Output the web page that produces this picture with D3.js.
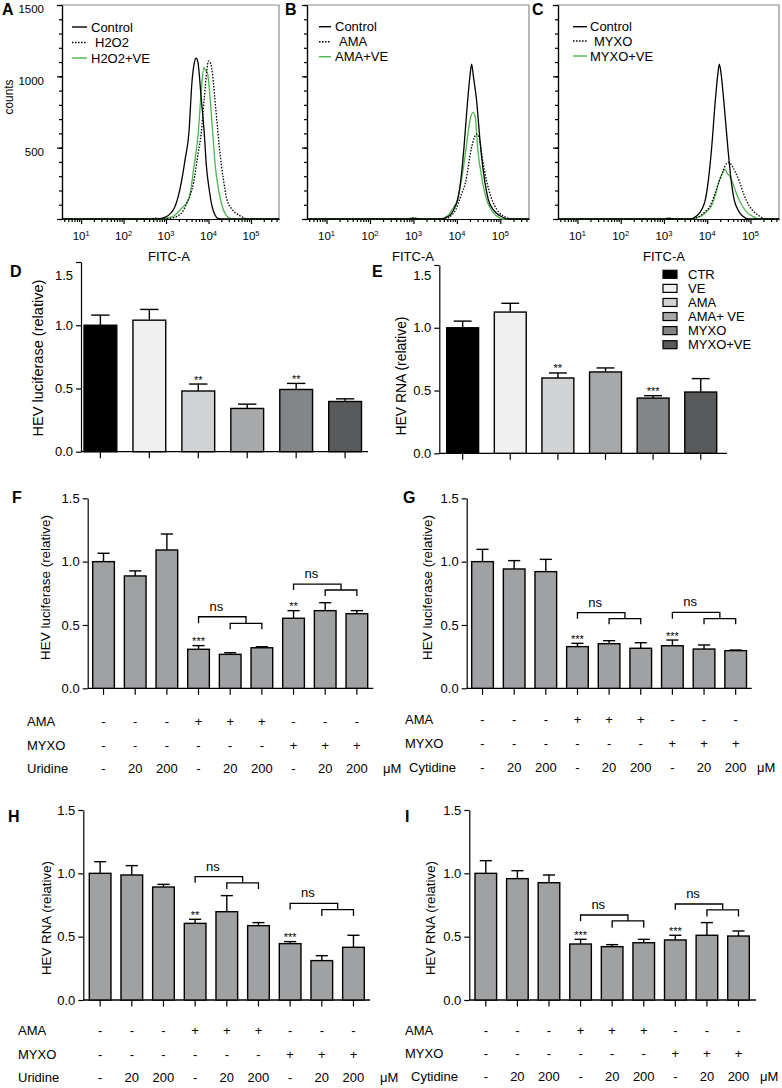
<!DOCTYPE html>
<html><head><meta charset="utf-8">
<script src="https://cdn.jsdelivr.net/npm/d3@7"></script>
<style>
body{margin:0;background:#fff;}
svg{display:block;}
</style></head><body>
<svg id="fig" width="782" height="1088"></svg>
<script>
// ---------------- DATA ----------------
// Flow cytometry histograms: [log10(FITC-A), counts]
const flowAControl = [[0.55,0],[2.8,0],[3.0,15],[3.2,80],[3.36,257],[3.45,420],[3.54,608],[3.61,959],[3.67,1100],[3.71,1127],[3.75,1100],[3.83,840],[3.9,600],[3.95,371],[4.02,200],[4.08,93],[4.15,30],[4.22,5],[4.35,0],[5.66,0]];
const flowAH2O2 = [[0.55,0],[2.6,0],[2.75,6],[2.9,0],[3.1,5],[3.3,25],[3.38,47],[3.5,120],[3.65,257],[3.75,450],[3.83,608],[3.9,850],[3.96,1040],[4.0,1108],[4.05,1090],[4.1,1000],[4.15,840],[4.2,680],[4.26,490],[4.35,280],[4.43,140],[4.55,70],[4.74,23],[4.95,0],[5.66,0]];
const flowAH2O2VE = [[0.55,0],[2.9,0],[3.05,8],[3.19,23],[3.35,70],[3.54,140],[3.65,350],[3.76,608],[3.83,900],[3.89,1062],[3.93,1040],[3.97,1030],[4.04,840],[4.1,600],[4.16,371],[4.24,200],[4.32,93],[4.42,25],[4.55,0],[5.66,0]];
const flowBControl = [[0.55,0],[2.9,0],[3.0,5],[3.1,0],[3.6,0],[3.83,23],[3.95,80],[4.02,140],[4.1,300],[4.16,490],[4.25,840],[4.3,1000],[4.34,1085],[4.38,1000],[4.45,840],[4.55,490],[4.65,250],[4.72,140],[4.85,60],[4.99,23],[5.2,0],[5.66,0]];
const flowBAMA = [[0.55,0],[2.8,0],[3.0,6],[3.2,0],[3.7,0],[3.94,47],[4.1,170],[4.2,259],[4.33,490],[4.4,570],[4.46,595],[4.52,560],[4.6,400],[4.69,259],[4.78,160],[4.87,93],[5.06,23],[5.3,0],[5.66,0]];
const flowBAMAVE = [[0.55,0],[2.8,0],[3.0,6],[3.2,0],[3.6,0],[3.79,23],[3.9,70],[4.02,140],[4.12,300],[4.21,490],[4.3,690],[4.37,747],[4.42,720],[4.48,490],[4.58,280],[4.68,140],[4.8,60],[4.91,23],[5.06,0],[5.66,0]];
const flowCControl = [[0.55,0],[3.0,0],[3.1,5],[3.3,0],[3.6,0],[3.76,23],[3.88,70],[3.96,140],[4.03,280],[4.1,490],[4.19,840],[4.24,1000],[4.28,1085],[4.32,1020],[4.38,840],[4.48,490],[4.55,280],[4.62,140],[4.72,60],[4.81,23],[4.97,0],[5.66,0]];
const flowCMYXO = [[0.55,0],[3.0,0],[3.1,4],[3.3,0],[3.6,0],[3.84,23],[3.95,50],[4.07,93],[4.17,170],[4.27,259],[4.37,340],[4.45,390],[4.5,397],[4.56,380],[4.65,330],[4.75,259],[4.85,170],[4.97,93],[5.1,45],[5.2,23],[5.35,0],[5.66,0]];
const flowCMYXOVE = [[0.55,0],[3.0,0],[3.1,5],[3.3,0],[3.6,0],[3.88,23],[4.0,55],[4.1,93],[4.2,180],[4.27,259],[4.35,320],[4.41,350],[4.46,320],[4.52,300],[4.58,259],[4.7,160],[4.81,93],[4.92,45],[5.03,23],[5.2,0],[5.66,0]];

const fitcDomainLog = [0.55, 5.66];
const fitcDecades = [1, 2, 3, 4, 5];
const countMajor = [0, 500, 1000, 1500];
const countMinor = [0,100,200,300,400,500,600,700,800,900,1000,1100,1200,1300,1400,1500];

// Bar panels D, E
const groupCats = ["CTR","VE","AMA","AMA+ VE","MYXO","MYXO+VE"];
const groupFills = ["#000000","#f0f0f0","#d2d3d5","#a7a8aa","#848587","#58595b"];
const dMeans = [1.00,1.04,0.48,0.342,0.492,0.397];
const dErrs  = [0.08,0.085,0.055,0.034,0.048,0.021];
const dStars = ["","","**","","**",""];
const eMeans = [1.00,1.125,0.60,0.648,0.44,0.488];
const eErrs  = [0.053,0.07,0.04,0.032,0.019,0.107];
const eStars = ["","","**","","***",""];

// Bar panels F-I
const treatCats = ["ctrl","n20","n200","ama","ama20","ama200","myxo","myxo20","myxo200"];
const amaRow  = ["-","-","-","+","+","+","-","-","-"];
const myxoRow = ["-","-","-","-","-","-","+","+","+"];
const doseRow = ["-","20","200","-","20","200","-","20","200"];
const fMeans = [1.0,0.887,1.092,0.308,0.268,0.32,0.553,0.613,0.589];
const fErrs  = [0.066,0.04,0.126,0.029,0.013,0.008,0.06,0.063,0.024];
const fStars = ["","","","***","","","**","",""];
const gMeans = [1.0,0.942,0.921,0.329,0.352,0.316,0.336,0.31,0.297];
const gErrs  = [0.097,0.066,0.097,0.026,0.024,0.044,0.045,0.032,0.005];
const gStars = ["","","","***","","","***","",""];
const hMeans = [1.0,0.987,0.892,0.605,0.697,0.587,0.445,0.311,0.416];
const hErrs  = [0.092,0.074,0.021,0.032,0.127,0.024,0.016,0.039,0.095];
const hStars = ["","","","**","","","***","",""];
const iMeans = [1.0,0.958,0.926,0.442,0.421,0.452,0.474,0.511,0.505];
const iErrs  = [0.1,0.063,0.061,0.037,0.016,0.027,0.037,0.1,0.04];
const iStars = ["","","","***","","","***","",""];
const relTicks = [0, 0.5, 1.0, 1.5];

// "ns" comparison brackets (levels in data units)
const fBrackets = [{from:3,to:[4,5],top:0.565,mid:0.513,low:0.466},{from:6,to:[7,8],top:0.823,mid:0.776,low:0.729}];
const gBrackets = [{from:3,to:[4,5],top:0.597,mid:0.55,low:0.505},{from:6,to:[7,8],top:0.6,mid:0.55,low:0.505}];
const hBrackets = [{from:3,to:[4,5],top:0.974,mid:0.925,low:0.876},{from:6,to:[7,8],top:0.763,mid:0.714,low:0.663}];
const iBrackets = [{from:3,to:[4,5],top:0.671,mid:0.624,low:0.571},{from:6,to:[7,8],top:0.758,mid:0.712,low:0.66}];

// ---------------- DRAW ----------------
const FONT = '"Liberation Sans", Arial, Helvetica, sans-serif';
const svg = d3.select("#fig").attr("font-family", FONT);
const GREEN = "#4db54d";

function styleAxis(sel, fs) {
  sel.attr("font-family", FONT).attr("font-size", fs);
  sel.select(".domain").attr("stroke", "#000").attr("stroke-width", 1.2);
  sel.selectAll(".tick line").attr("stroke", "#000").attr("stroke-width", 1.2);
  sel.selectAll(".tick text").attr("fill", "#000");
}

// scale a text's font so that it spans the measured length in the reference
function fitLength(sel, target) {
  const node = sel.node();
  const len = node.getComputedTextLength();
  const fs = parseFloat(sel.attr("font-size"));
  if (len > 0) sel.attr("font-size", (fs * target / len).toFixed(2));
}

function letter(t, x, y) {
  svg.append("text").attr("x", x).attr("y", y).attr("font-size", 16).attr("font-weight", "bold").text(t);
}

function flowPanel(o) {
  const g = svg.append("g");
  const x = d3.scaleLog().domain([Math.pow(10, fitcDomainLog[0]), Math.pow(10, fitcDomainLog[1])]).range([o.left, o.right]);
  const y = d3.scaleLinear().domain([0, 1500]).range([o.bottom, o.top]);
  g.append("path").attr("d", `M${o.left},${o.top}H${o.right}V${o.bottom}`)
    .attr("fill", "none").attr("stroke", "#8a8a8a").attr("stroke-width", 1.2);

  const yMin = g.append("g").attr("transform", `translate(${o.left},0)`)
    .call(d3.axisLeft(y).tickValues(countMinor).tickSize(3).tickSizeOuter(0).tickFormat(""));
  styleAxis(yMin, 11);
  const yMaj = g.append("g").attr("transform", `translate(${o.left},0)`)
    .call(d3.axisLeft(y).tickValues(countMajor).tickSize(5).tickSizeOuter(0).tickPadding(13)
      .tickFormat(d => (o.yLabels && d > 0) ? d : ""));
  styleAxis(yMaj, 11.5);
  yMaj.selectAll(".tick text").attr("transform", "translate(0,4)");

  const minor = [];
  for (let n = 0; n <= 5; n++) for (let k = 2; k <= 9; k++) {
    const v = k * Math.pow(10, n), lv = Math.log10(v);
    if (lv >= fitcDomainLog[0] && lv <= fitcDomainLog[1]) minor.push(v);
  }
  const xMin = g.append("g").attr("transform", `translate(0,${o.bottom})`)
    .call(d3.axisBottom(x).tickValues(minor).tickSize(3).tickSizeOuter(0).tickFormat(""));
  styleAxis(xMin, 11);
  const xMaj = g.append("g").attr("transform", `translate(0,${o.bottom})`)
    .call(d3.axisBottom(x).tickValues(fitcDecades.map(d => Math.pow(10, d))).tickSize(5).tickSizeOuter(0).tickFormat(""));
  styleAxis(xMaj, 11);

  const lab = g.selectAll(null).data(fitcDecades).join("text")
    .attr("x", d => x(Math.pow(10, d))).attr("y", o.bottom + 21)
    .attr("text-anchor", "middle").attr("font-size", 11.5);
  lab.append("tspan").text("10");
  lab.append("tspan").attr("font-size", 7.5).attr("dy", -4.5).text(d => d);

  const fl = g.append("text").attr("x", o.xLabelX).attr("y", 261).attr("text-anchor", "middle")
    .attr("font-size", 13).text("FITC-A");
  fitLength(fl, 42);

  const line = d3.line().x(d => x(Math.pow(10, d[0]))).y(d => y(d[1])).curve(d3.curveMonotoneX);
  o.series.slice().reverse().forEach(s => {
    g.append("path").datum(s.data).attr("d", line).attr("fill", "none")
      .attr("stroke", s.color).attr("stroke-width", 1.3)
      .attr("stroke-dasharray", s.dash ? "1.5,1.5" : null);
  });

  o.series.forEach((s, i) => {
    const ly = o.legend.ys[i];
    g.append("line").attr("x1", o.legend.x1).attr("x2", o.legend.x2).attr("y1", ly).attr("y2", ly)
      .attr("stroke", s.color).attr("stroke-width", 1.4).attr("stroke-dasharray", s.dash ? "1.5,1.5" : null);
    g.append("text").attr("x", o.legend.tx + (i === 1 ? 4 : 0)).attr("y", ly).attr("dy", "0.36em")
      .attr("font-size", 13).text(s.name);
  });
}

function barPanel(o) {
  const g = svg.append("g");
  const y = d3.scaleLinear().domain([0, 1.5]).range([o.y0, o.y15]);
  const x = d3.scaleBand().domain(o.cats).range([o.barStart, o.barEnd]).paddingInner(o.pad).paddingOuter(0);
  const bw = x.bandwidth();
  const cx = d => x(d) + bw / 2;

  const ya = g.append("g").attr("transform", `translate(${o.axisX},0)`)
    .call(d3.axisLeft(y).tickValues(relTicks).tickFormat(d3.format(".1f")).tickSize(5).tickSizeOuter(0).tickPadding(3));
  styleAxis(ya, 13);
  if (o.topLabelY) ya.selectAll(".tick text").filter(d => d === 1.5)
    .attr("transform", `translate(0,${o.topLabelY - y(1.5)})`);

  g.append("line").attr("x1", o.axisX).attr("x2", o.axisEnd).attr("y1", o.y0).attr("y2", o.y0)
    .attr("stroke", "#000").attr("stroke-width", 1.3);
  g.selectAll(null).data(o.cats).join("line")
    .attr("x1", cx).attr("x2", cx).attr("y1", o.y0).attr("y2", o.y0 + 6.5)
    .attr("stroke", "#000").attr("stroke-width", 1.2);

  const rows = o.cats.map((c, i) => ({c, m: o.means[i], e: o.errs[i], s: o.stars[i], f: o.fills[i]}));
  g.selectAll(null).data(rows).join("line")
    .attr("x1", d => cx(d.c)).attr("x2", d => cx(d.c)).attr("y1", d => y(d.m)).attr("y2", d => y(d.m + d.e))
    .attr("stroke", "#000").attr("stroke-width", 1.4);
  g.selectAll(null).data(rows).join("line")
    .attr("x1", d => cx(d.c) - bw * 0.28).attr("x2", d => cx(d.c) + bw * 0.28)
    .attr("y1", d => y(d.m + d.e)).attr("y2", d => y(d.m + d.e))
    .attr("stroke", "#000").attr("stroke-width", 1.4);
  g.selectAll(null).data(rows).join("rect")
    .attr("x", d => x(d.c)).attr("width", bw)
    .attr("y", d => y(d.m)).attr("height", d => o.y0 - y(d.m))
    .attr("fill", d => d.f).attr("stroke", "#000").attr("stroke-width", 1.4);
  g.selectAll(null).data(rows.filter(d => d.s)).join("text")
    .attr("x", d => cx(d.c)).attr("y", d => y(d.m + d.e) - 0.5)
    .attr("text-anchor", "middle").attr("font-size", 11).text(d => d.s);

  const yl = g.append("text").attr("transform", `translate(${o.ylab.x},${o.ylab.y}) rotate(-90)`)
    .attr("text-anchor", "middle").attr("dy", "0.36em").attr("font-size", o.ylab.size).text(o.ylab.text);
  fitLength(yl, o.ylab.len);
  letter(o.letter.t, o.letter.x, o.letter.y);

  (o.brackets || []).forEach(b => {
    const xa = cx(o.cats[b.from]);
    const x1 = cx(o.cats[b.to[0]]), x2 = cx(o.cats[b.to[1]]);
    const xm = (x1 + x2) / 2;
    g.append("path")
      .attr("d", `M${xa},${y(b.mid)}V${y(b.top)}H${xm}V${y(b.mid)}M${x1},${y(b.low)}V${y(b.mid)}H${x2}V${y(b.low)}`)
      .attr("fill", "none").attr("stroke", "#000").attr("stroke-width", 1.3);
    g.append("text").attr("x", (xa + xm) / 2 - 6).attr("y", y(b.top) - 6)
      .attr("text-anchor", "middle").attr("font-size", 13).text("ns");
  });

  if (o.table) {
    const t = o.table;
    const tRows = [{label: "AMA", vals: amaRow, y: t.ys[0], lx: t.lx[0]},
                   {label: "MYXO", vals: myxoRow, y: t.ys[1], lx: t.lx[1]},
                   {label: t.nuc, vals: doseRow, y: t.ys[2], lx: t.lx[2]}];
    tRows.forEach(r => {
      g.append("text").attr("x", r.lx).attr("y", r.y).attr("dy", "0.36em").attr("font-size", 13).text(r.label);
      g.selectAll(null).data(o.cats).join("text")
        .attr("x", cx).attr("y", r.y).attr("dy", "0.36em").attr("text-anchor", "middle")
        .attr("font-size", 13).text((d, i) => r.vals[i]);
    });
    g.append("text").attr("x", t.ux).attr("y", t.ys[2]).attr("dy", "0.36em").attr("font-size", 13).text("μM");
  }
  return {x, y, cx};
}

// ---- Panels A, B, C
letter("A", 2, 15); letter("B", 285, 15); letter("C", 532, 15);
const cl = svg.append("text").attr("transform", "translate(13,97) rotate(-90)").attr("text-anchor", "middle")
  .attr("font-size", 12).text("counts");
fitLength(cl, 35);

flowPanel({left: 62, right: 279, top: 5, bottom: 219, yLabels: true, xLabelX: 169,
  series: [{name: "Control", data: flowAControl, color: "#000"},
           {name: "H2O2", data: flowAH2O2, color: "#000", dash: true},
           {name: "H2O2+VE", data: flowAH2O2VE, color: GREEN}],
  legend: {x1: 72, x2: 87, tx: 91, ys: [27, 42.5, 58]}});
flowPanel({left: 307, right: 529, top: 5, bottom: 219, yLabels: false, xLabelX: 413,
  series: [{name: "Control", data: flowBControl, color: "#000"},
           {name: "AMA", data: flowBAMA, color: "#000", dash: true},
           {name: "AMA+VE", data: flowBAMAVE, color: GREEN}],
  legend: {x1: 319, x2: 331, tx: 335, ys: [26.7, 41.7, 56.7]}});
flowPanel({left: 558, right: 779, top: 5, bottom: 219, yLabels: false, xLabelX: 664,
  series: [{name: "Control", data: flowCControl, color: "#000"},
           {name: "MYXO", data: flowCMYXO, color: "#000", dash: true},
           {name: "MYXO+VE", data: flowCMYXOVE, color: GREEN}],
  legend: {x1: 573, x2: 587, tx: 590, ys: [26.7, 41, 56]}});

// ---- Panels D, E
barPanel({cats: groupCats, means: dMeans, errs: dErrs, stars: dStars, fills: groupFills,
  axisX: 81, y0: 451.7, y15: 262, barStart: 84, barEnd: 361.5, pad: 0.33, axisEnd: 368, topLabelY: 275,
  ylab: {text: "HEV luciferase (relative)", x: 38, y: 358, size: 14.5, len: 157}, letter: {t: "D", x: 10, y: 277}});
barPanel({cats: groupCats, means: eMeans, errs: eErrs, stars: eStars, fills: groupFills,
  axisX: 439.3, y0: 453.3, y15: 265, barStart: 446.7, barEnd: 716.7, pad: 0.33, axisEnd: 727, topLabelY: 275,
  ylab: {text: "HEV RNA (relative)", x: 401, y: 376, size: 14, len: 119}, letter: {t: "E", x: 372, y: 277}});

const leg = svg.append("g");
const legY = d3.scalePoint().domain(groupCats).range([274.3, 344.7]);
leg.selectAll(null).data(groupCats).join("rect")
  .attr("x", 663).attr("y", d => legY(d) - 4).attr("width", 14).attr("height", 8)
  .attr("fill", (d, i) => groupFills[i]).attr("stroke", "#000").attr("stroke-width", 1.2);
leg.selectAll(null).data(groupCats).join("text")
  .attr("x", 688).attr("y", d => legY(d)).attr("dy", "0.36em").attr("font-size", 13).text(d => d);

// ---- Panels F, G, H, I
const grayFills = treatCats.map(() => "#a0a1a3");
barPanel({cats: treatCats, means: fMeans, errs: fErrs, stars: fStars, fills: grayFills,
  axisX: 87.7, y0: 688.3, y15: 498.3, barStart: 92.7, barEnd: 367.7, pad: 0.316, axisEnd: 373.3,
  ylab: {text: "HEV luciferase (relative)", x: 45.5, y: 587.5, size: 13.5, len: 145}, letter: {t: "F", x: 12, y: 503},
  brackets: fBrackets, table: {nuc: "Uridine", ys: [721, 745, 768], lx: [27, 27, 27], ux: 383}});
barPanel({cats: treatCats, means: gMeans, errs: gErrs, stars: gStars, fills: grayFills,
  axisX: 466.7, y0: 688.3, y15: 498.3, barStart: 471.7, barEnd: 746.5, pad: 0.316, axisEnd: 751.7,
  ylab: {text: "HEV luciferase (relative)", x: 427, y: 587.5, size: 13.5, len: 145}, letter: {t: "G", x: 403, y: 503},
  brackets: gBrackets, table: {nuc: "Cytidine", ys: [719, 743.5, 767], lx: [405, 405, 409], ux: 757}});
barPanel({cats: treatCats, means: hMeans, errs: hErrs, stars: hStars, fills: grayFills,
  axisX: 83.3, y0: 1000, y15: 810, barStart: 89.3, barEnd: 364.3, pad: 0.316, axisEnd: 370,
  ylab: {text: "HEV RNA (relative)", x: 46.5, y: 918, size: 13.2, len: 114}, letter: {t: "H", x: 8, y: 822},
  brackets: hBrackets, table: {nuc: "Uridine", ys: [1030, 1054.3, 1077.7], lx: [18, 18, 18], ux: 380}});
barPanel({cats: treatCats, means: iMeans, errs: iErrs, stars: iStars, fills: grayFills,
  axisX: 469.3, y0: 1000, y15: 810, barStart: 475, barEnd: 749.3, pad: 0.316, axisEnd: 756,
  ylab: {text: "HEV RNA (relative)", x: 430, y: 918, size: 13.2, len: 114}, letter: {t: "I", x: 405, y: 822},
  brackets: iBrackets, table: {nuc: "Cytidine", ys: [1030, 1053.3, 1076], lx: [405, 405, 411], ux: 760}});
</script>
</body></html>
